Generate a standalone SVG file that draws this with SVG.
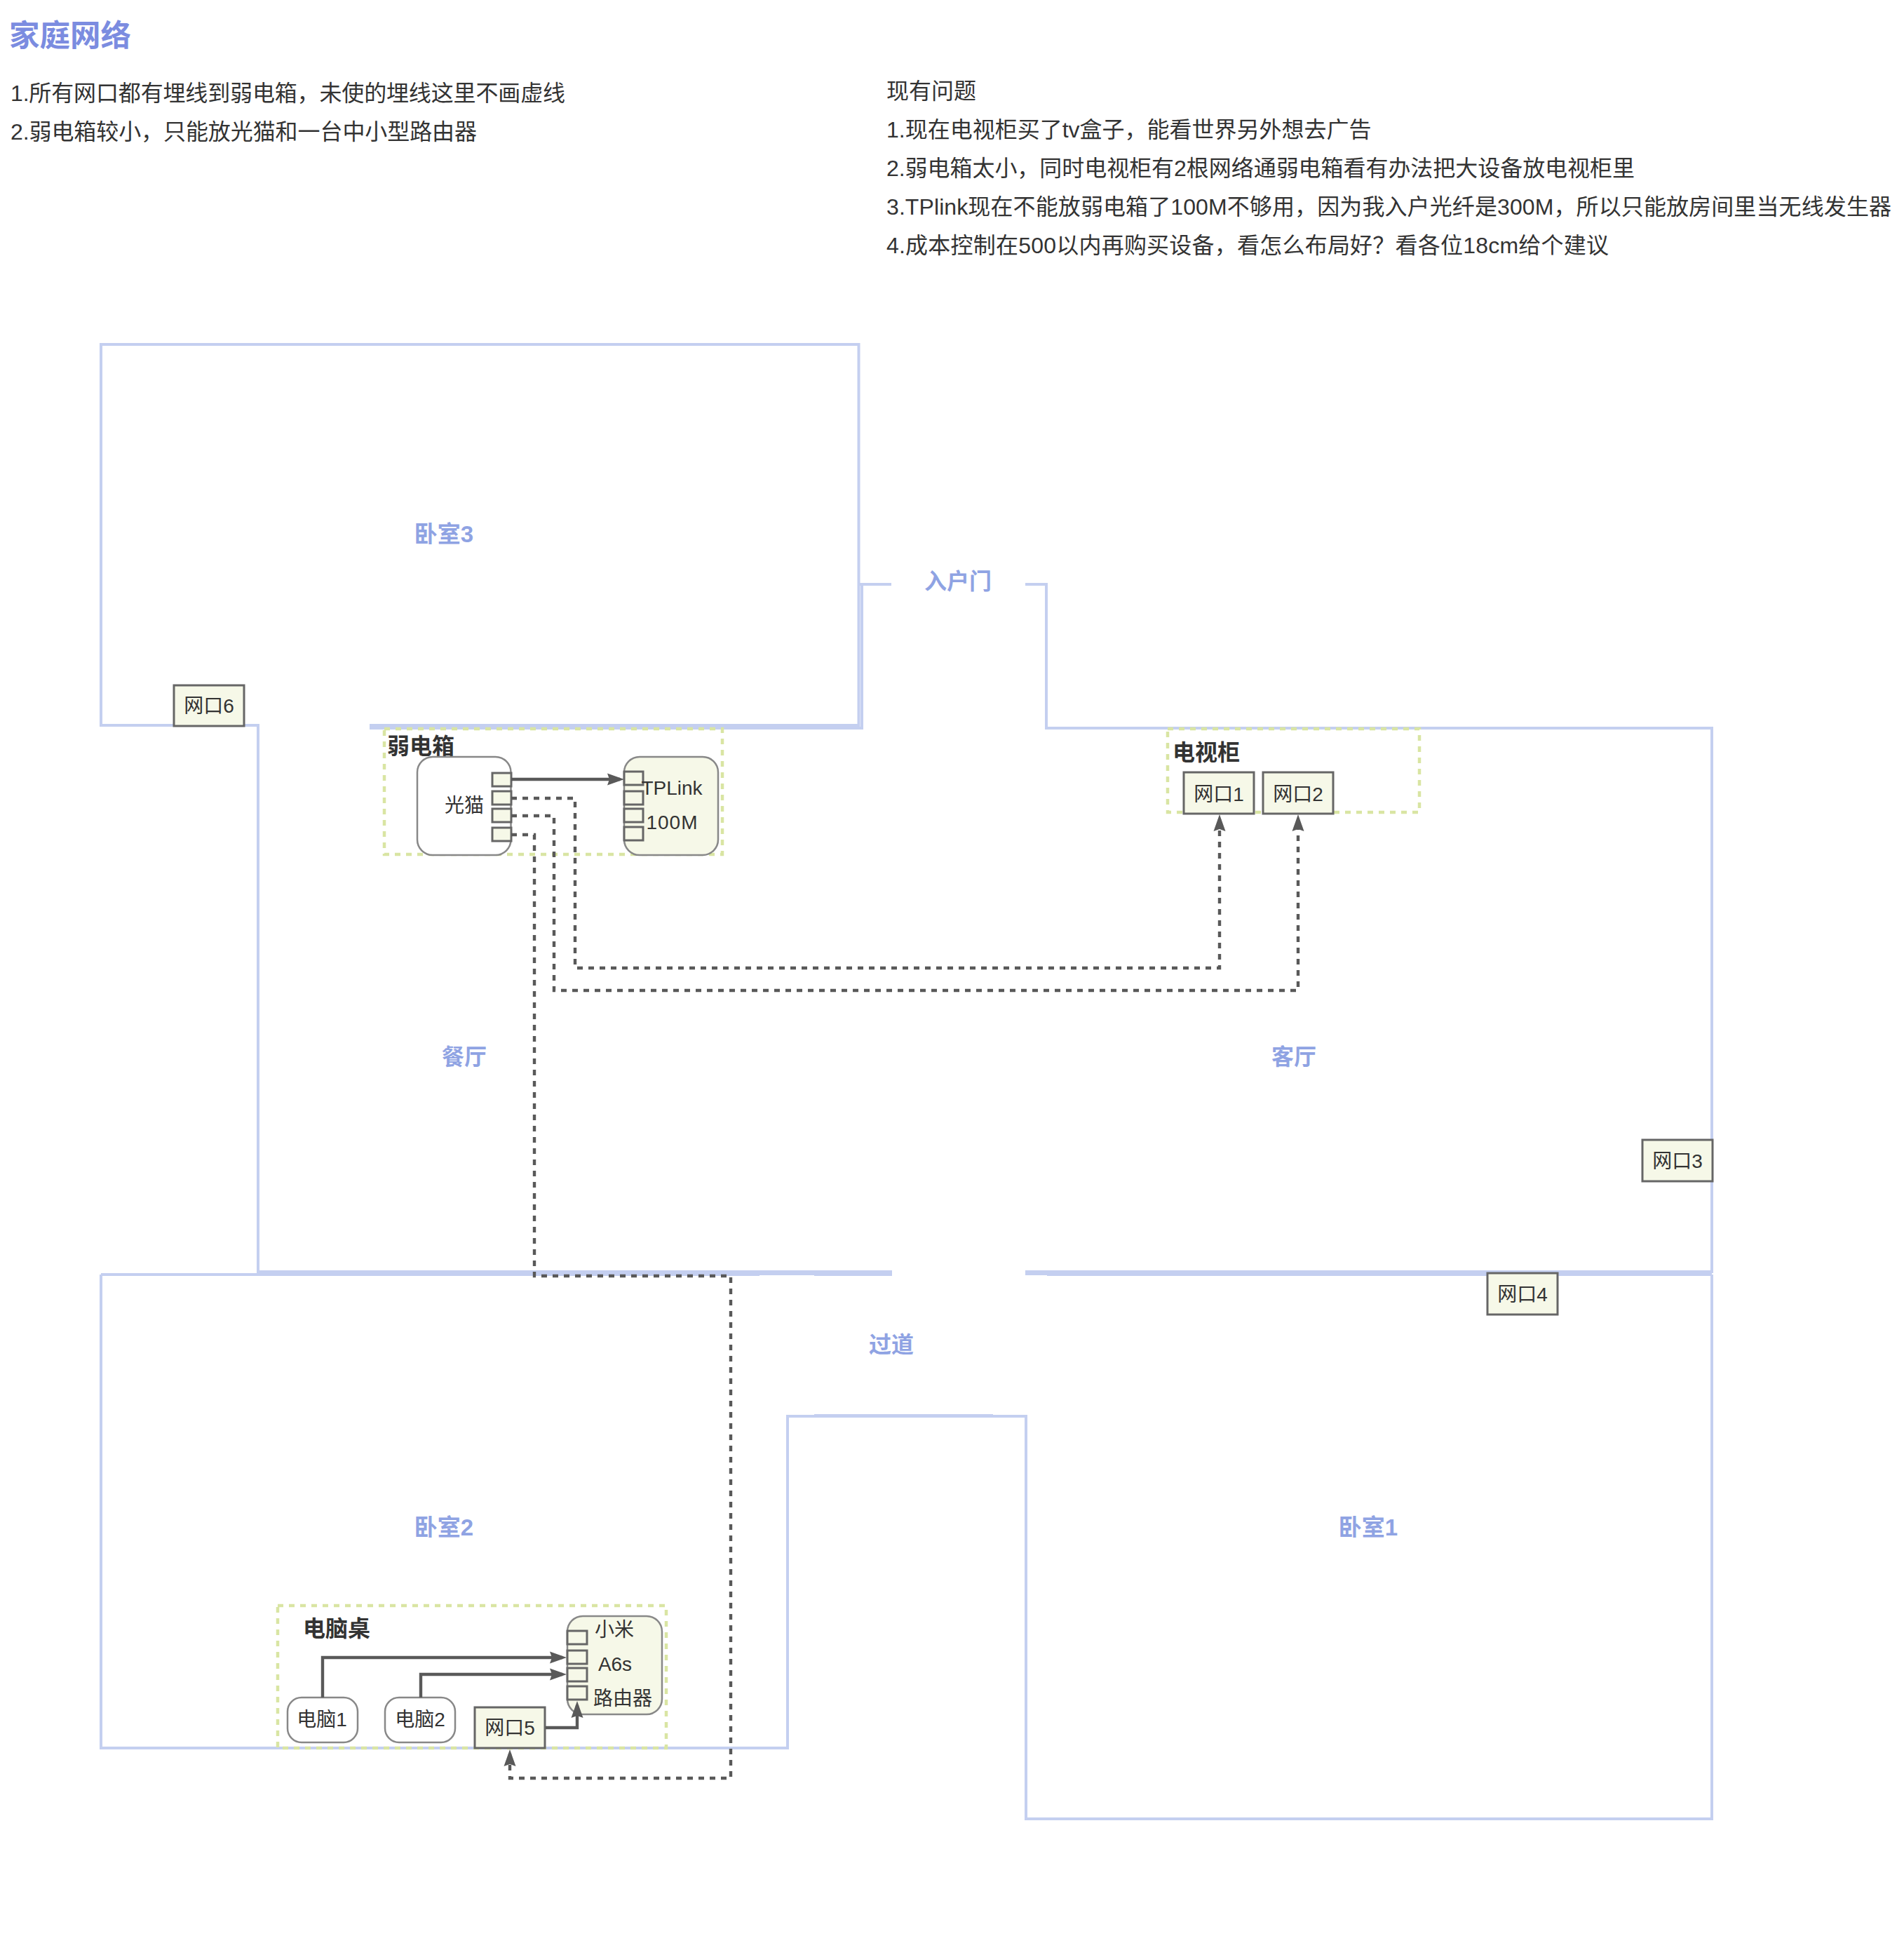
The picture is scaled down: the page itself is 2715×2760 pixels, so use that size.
<svg xmlns="http://www.w3.org/2000/svg" width="2715" height="2760" viewBox="0 0 2715 2760">
<style>
text{font-family:"Liberation Sans","Noto Sans CJK SC",sans-serif;fill:#333}
.body{font-size:32px}
.title{font-size:43.500px;font-weight:700;fill:#7b8ce0}
.room{font-size:32px;font-weight:700;fill:#8fa3e3;text-anchor:middle}
.room3{font-size:33px}
.grp{font-size:32px;font-weight:700}
.lbl{font-size:28px;text-anchor:middle}
.wall{fill:none;stroke:#c4cff0;stroke-width:4}
.zone{fill:none;stroke:#d9e5a3;stroke-width:4.500;stroke-dasharray:8 8}
.dev{fill:#fff;stroke:#888;stroke-width:2.500}
.devf{fill:#f6f8e8;stroke:#888;stroke-width:2.500}
.port{fill:#f6f8e8;stroke:#666;stroke-width:3}
.wire{fill:none;stroke:#595959;stroke-width:4.400;marker-end:url(#a)}
.dash{fill:none;stroke:#595959;stroke-width:4.400;stroke-dasharray:8 8;marker-end:url(#a)}
</style>
<defs>
<marker id="a" markerUnits="userSpaceOnUse" markerWidth="24" markerHeight="18" refX="18" refY="9" orient="auto"><path d="M0,0.500 L24,9 L0,17.500 L3,9z" fill="#595959"/></marker>
</defs>
<g id="notes">
<text class="title" x="13" y="66">家庭网络</text>
<text class="body" x="15" y="144" textLength="791">1.所有网口都有埋线到弱电箱，未使的埋线这里不画虚线</text>
<text class="body" x="15" y="199" textLength="665">2.弱电箱较小，只能放光猫和一台中小型路由器</text>
<text class="body" x="1264" y="141">现有问题</text>
<text class="body" x="1264" y="196">1.现在电视柜买了tv盒子，能看世界另外想去广告</text>
<text class="body" x="1264" y="251" textLength="1067">2.弱电箱太小，同时电视柜有2根网络通弱电箱看有办法把大设备放电视柜里</text>
<text class="body" x="1264" y="306" textLength="1433">3.TPlink现在不能放弱电箱了100M不够用，因为我入户光纤是300M，所以只能放房间里当无线发生器</text>
<text class="body" x="1264" y="361" textLength="1030">4.成本控制在500以内再购买设备，看怎么布局好？看各位18cm给个建议</text>
</g>
<g id="walls">
<path class="wall" d="M370,1034 H144 V491 H1224.500 V1034 H527"/>
<path class="wall" d="M527,1038 H1229 V833"/>
<path class="wall" d="M1225,833 H1271"/>
<path class="wall" d="M1462,833 H1492 V1038 H2441 V1815"/>
<path class="wall" d="M368,1034 V1813 H1272"/>
<path class="wall" d="M144,1817 H1083 M1083,1816 H1161 M1161,1817 H1272 M1462,1813 H2441 M1462,1816 H1493 M1493,1817 H2441"/>
<path class="wall" d="M2441,1817 V2593 H1463 V2019 H1123 V2492 H144 V1817"/>
<path class="wall" d="M1161,2018 H1416"/>
</g>
<g id="room-labels">
<text id="bedroom3" class="room room3" x="633" y="773">卧室3</text>
<text id="entry" class="room" x="1366" y="840">入户门</text>
<text id="dining" class="room" x="662" y="1518">餐厅</text>
<text id="living" class="room" x="1845" y="1518">客厅</text>
<text id="hall" class="room" x="1271" y="1928">过道</text>
<text id="bedroom2" class="room room3" x="633" y="2189">卧室2</text>
<text id="bedroom1" class="room room3" x="1951" y="2189">卧室1</text>
</g>
<g id="weak-box">
<rect class="zone" x="548" y="1039" width="482" height="179"/>
<text class="grp" x="552" y="1075">弱电箱</text>
</g>
<g id="modem">
<rect class="dev" x="595" y="1079" width="133.500" height="140" rx="22"/>
<text class="lbl" x="662" y="1158">光猫</text>
<rect class="port" x="702" y="1102" width="27" height="19"/>
<rect class="port" x="702" y="1128" width="27" height="19"/>
<rect class="port" x="702" y="1153" width="27" height="19"/>
<rect class="port" x="702" y="1180" width="27" height="19"/>
</g>
<g id="tplink">
<rect class="devf" x="890" y="1079" width="134" height="140" rx="22"/>
<rect class="port" x="890" y="1100" width="27" height="19"/>
<rect class="port" x="890" y="1128" width="27" height="19"/>
<rect class="port" x="890" y="1153" width="27" height="19"/>
<rect class="port" x="890" y="1179" width="27" height="19"/>
<text class="lbl" x="958" y="1133">TPLink</text>
<text class="lbl" x="958" y="1182" textLength="73">100M</text>
</g>
<g id="tv-cabinet">
<rect class="zone" x="1665" y="1039" width="359" height="119"/>
<text class="grp" x="1672" y="1084">电视柜</text>
</g>
<g id="port1"><rect class="port" x="1688" y="1101" width="100" height="59"/><text class="lbl" x="1738" y="1142">网口1</text></g>
<g id="port2"><rect class="port" x="1801" y="1101" width="100" height="59"/><text class="lbl" x="1851" y="1142">网口2</text></g>
<g id="port3"><rect class="port" x="2342" y="1625" width="100" height="59"/><text class="lbl" x="2392" y="1665">网口3</text></g>
<g id="port4"><rect class="port" x="2121" y="1815" width="100" height="59"/><text class="lbl" x="2171" y="1855">网口4</text></g>
<g id="port6"><rect class="port" x="248" y="977" width="100" height="58"/><text class="lbl" x="298" y="1016">网口6</text></g>
<g id="desk">
<rect class="zone" x="396" y="2289" width="554" height="203"/>
<text class="grp" x="432" y="2333">电脑桌</text>
</g>
<g id="xiaomi">
<rect class="devf" x="809" y="2304" width="135" height="140" rx="22"/>
<rect class="port" x="809" y="2325" width="28" height="19"/>
<rect class="port" x="809" y="2353" width="28" height="19"/>
<rect class="port" x="809" y="2378" width="28" height="19"/>
<rect class="port" x="809" y="2404" width="28" height="19"/>
<text class="lbl" x="876" y="2333">小米</text>
<text class="lbl" x="877" y="2382">A6s</text>
<text class="lbl" x="888" y="2431">路由器</text>
</g>
<g id="pc1"><rect class="dev" x="410" y="2420" width="100" height="64" rx="20"/><text class="lbl" x="459" y="2461">电脑1</text></g>
<g id="pc2"><rect class="dev" x="549" y="2420" width="100" height="64" rx="20"/><text class="lbl" x="599" y="2461">电脑2</text></g>
<g id="port5"><rect class="port" x="677" y="2434" width="100" height="58"/><text class="lbl" x="727" y="2473">网口5</text></g>
<g id="connectors">
<path class="wire" d="M729,1111 H884"/>
<path class="dash" d="M729,1138 H820 V1380 H1739 V1167"/>
<path class="dash" d="M729,1163 H790 V1412 H1851 V1167"/>
<path class="dash" d="M729,1190 H762 V1819 H1042 V2535 H727 V2500"/>
<path class="wire" d="M460,2420 V2363 H802"/>
<path class="wire" d="M600,2420 V2387 H802"/>
<path class="wire" d="M778,2463 H823 V2431"/>
</g>
</svg>
